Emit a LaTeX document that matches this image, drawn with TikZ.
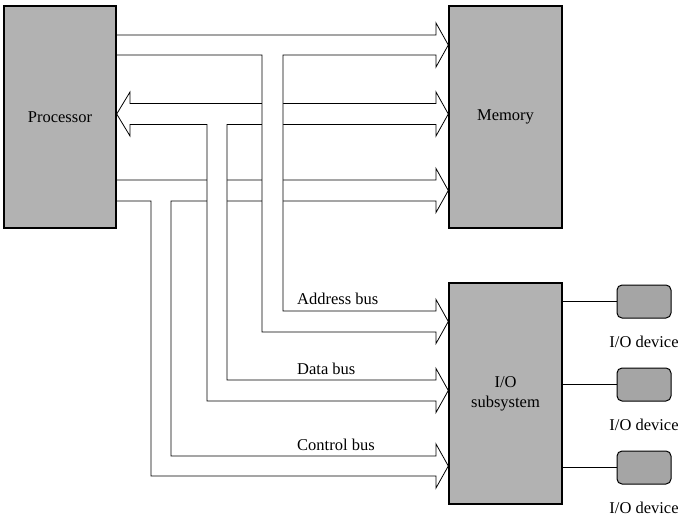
\documentclass[tikz,border=0pt]{standalone}
\usepackage{fontspec}
\setmainfont{Liberation Serif}
\usetikzlibrary{positioning, backgrounds}
\usepackage{xcolor}
\definecolor{unitGray}{RGB}{178, 178, 178}
\definecolor{deviceGray}{RGB}{165, 165, 165}

\begin{document}
\begin{tikzpicture}
    [
		x=1pt, y=-1pt,
		font=\fontsize{16.5}{20}\selectfont,
		unit/.style={
			draw, line width=1.4pt, fill=unitGray, align=center,
			minimum width=113pt, minimum height=222pt
		},
		device/.style={
			draw, line width=1pt, fill=deviceGray, rounded corners=5pt,
			minimum width=54pt, minimum height=33pt
		},
		devlabel/.style={inner sep=2pt},
		buslabel/.style={anchor=base west, inner sep=0pt},
		bus/.style={draw, line width=0.8pt, fill=white, line join=miter},
		link/.style={draw, line width=0.8pt}
	]

\useasboundingbox (0,0) rectangle (688,527);

% Units
\node (proc) [unit, minimum width=112pt] at (60,117) {Processor};
\node (mem) [unit] at (505.5,117) {Memory};
\node (io) [unit, minimum height=221pt] at (505.5,393.5) {I/O\\subsystem};

% Devices
\node (devA) [device] at (644,301.5) {};
\node (devB) [device, below=49pt of devA] {};
\node (devC) [device, below=49pt of devB] {};
\node (labA) [devlabel, below=15pt of devA] {I/O device};
\node (labB) [devlabel, below=15pt of devB] {I/O device};
\node (labC) [devlabel, below=15pt of devC] {I/O device};

\draw [link] (io.east |- devA.west) -- (devA.west);
\draw [link] (io.east |- devB.west) -- (devB.west);
\draw [link] (io.east |- devC.west) -- (devC.west);

% Buses
\begin{scope}[on background layer]
% control bus
\draw [bus]
	(proc.east |- 0,180) -- (436,180) -- (436,168.5) -- (mem.west |- 0,190.5)
	-- (436,212.5) -- (436,201) -- (171,201) -- (171,456) -- (436,456)
	-- (436,444) -- (io.west |- 0,466) -- (436,488) -- (436,476)
	-- (151,476) -- (151,201) -- (proc.east |- 0,201);

% data bus
\draw [bus]
	(proc.east |- 0,114) -- (130,92) -- (130,103.5) -- (436,103.5)
	-- (436,92) -- (mem.west |- 0,114) -- (436,136) -- (436,124.5)
	-- (227,124.5) -- (227,380) -- (436,380) -- (436,368.5)
	-- (io.west |- 0,390.5) -- (436,412.5) -- (436,401) -- (207,401)
	-- (207,124.5) -- (130,124.5) -- (130,136) -- cycle;

% address bus
\draw [bus]
	(proc.east |- 0,35) -- (436,35) -- (436,23) -- (mem.west |- 0,45)
	-- (436,67) -- (436,55) -- (283,55) -- (283,311) -- (436,311)
	-- (436,299.5) -- (io.west |- 0,321.5) -- (436,343.5) -- (436,332)
	-- (262,332) -- (262,55) -- (proc.east |- 0,55);
\end{scope}

% Bus labels
\node (addrLabel) [buslabel] at (297,304) {Address bus};
\node (dataLabel) [buslabel] at (297,374) {Data bus};
\node (ctrlLabel) [buslabel] at (297,450) {Control bus};

\end{tikzpicture}
\end{document}
